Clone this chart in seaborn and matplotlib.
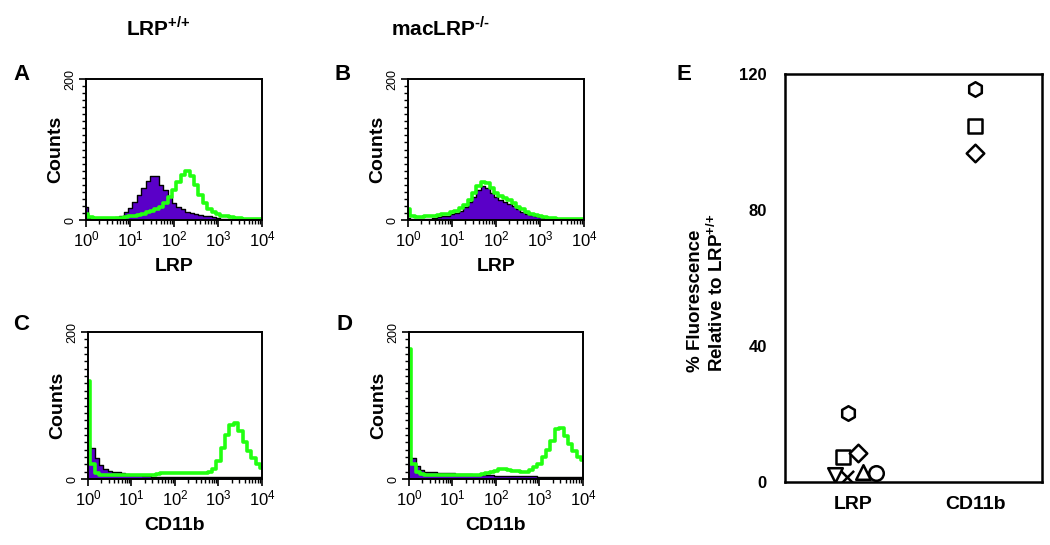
# Flow cytometry histograms (A-D) and relative fluorescence summary (E)

import seaborn as sns
import numpy as np
import matplotlib.pyplot as plt
import pandas as pd
from matplotlib.ticker import LogLocator, MultipleLocator, NullFormatter

# channel grid in log10 units (0.1 decade bins)
log_channels = np.round(np.arange(0, 4.01, 0.1), 1)

# counts per channel (purple = control, green = antibody)
a_purple = [18, 3, 2, 2, 2, 2, 3, 4, 6, 11, 17, 25, 35, 45, 55, 62, 62, 50, 42, 32,
            24, 18, 15, 12, 10, 8, 7, 6, 5, 4, 3, 2, 1, 1, 1, 0, 0, 0, 0, 0, 0]
a_green = [8, 4, 3, 3, 3, 3, 3, 3, 3, 4, 5, 6, 7, 9, 11, 13, 15, 19, 24, 32,
           42, 54, 64, 69, 62, 50, 36, 24, 16, 11, 8, 6, 5, 4, 3, 3, 2, 2, 2, 2, 2]
b_purple = [3, 2, 2, 2, 2, 2, 3, 4, 5, 6, 8, 10, 13, 18, 25, 32, 42, 48, 45, 38,
            32, 29, 26, 23, 20, 15, 12, 9, 7, 5, 4, 3, 2, 1, 1, 1, 1, 0, 0, 0, 0]
b_green = [15, 5, 4, 4, 5, 5, 6, 7, 8, 9, 11, 13, 17, 22, 29, 38, 48, 54, 52, 45,
           38, 34, 31, 28, 24, 19, 15, 11, 9, 7, 5, 4, 3, 3, 2, 2, 2, 2, 2, 2, 2]
c_purple = [45, 42, 28, 19, 14, 11, 10, 9, 8, 7, 6, 5, 5, 4, 4, 3, 3, 3, 3, 3,
            3, 3, 3, 3, 3, 3, 3, 3, 3, 3, 3, 3, 3, 3, 3, 3, 3, 3, 3, 3, 3]
c_green = [134, 20, 8, 6, 5, 5, 5, 5, 5, 5, 5, 5, 5, 5, 5, 6, 7, 8, 8, 8,
           8, 8, 8, 8, 8, 8, 8, 8, 9, 14, 25, 42, 60, 74, 76, 65, 50, 38, 28, 20, 15]
d_purple = [30, 28, 18, 12, 10, 9, 9, 8, 8, 8, 8, 7, 7, 7, 7, 6, 6, 5, 5, 5,
            4, 4, 4, 4, 4, 4, 4, 4, 4, 4, 3, 3, 3, 3, 3, 3, 3, 3, 3, 3, 3]
d_green = [177, 20, 10, 7, 6, 6, 6, 6, 6, 6, 6, 6, 6, 6, 6, 6, 6, 7, 8, 10,
           11, 13, 14, 12, 11, 11, 10, 9, 12, 16, 21, 30, 40, 52, 68, 70, 58, 47, 38, 30, 26]

# panel E values
e_groups = ['LRP', 'CD11b']
lrp_values = [20.3, 7.4, 8.5, 2.0, 1.4, 3.0, 2.7]
lrp_markers = ['h', 's', 'D', 'v', 'x', '^', 'o']
lrp_jitter = [-0.04, -0.08, 0.04, -0.15, -0.05, 0.08, 0.19]
cd11b_values = [115.6, 104.7, 96.7]
cd11b_markers = ['h', 's', 'D']
cd11b_jitter = [0.0, 0.0, 0.0]

PURPLE = '#5a00c8'
GREEN = '#22ff11'

sns.set_theme(style="ticks")
plt.rcParams['font.family'] = ['Liberation Sans', 'DejaVu Sans']
plt.rcParams['mathtext.fontset'] = 'custom'
plt.rcParams['mathtext.rm'] = 'Liberation Sans'
plt.rcParams['mathtext.bf'] = 'Liberation Sans:bold'
for key in ['text.color', 'axes.labelcolor', 'xtick.color', 'ytick.color']:
    plt.rcParams[key] = 'black'

fig = plt.figure(figsize=(10.5, 5.45), dpi=100)


def draw_hist(ax, purple, green, xlabel):
    x = 10 ** log_channels
    ax.fill_between(x, purple, step='mid', color=PURPLE, lw=0)
    sns.lineplot(x=x, y=purple, ax=ax, color='black', lw=1.0, drawstyle='steps-mid')
    sns.lineplot(x=x, y=green, ax=ax, color=GREEN, lw=2.6, drawstyle='steps-mid')
    ax.set_xscale('log')
    ax.set_xlim(1, 1e4)
    ax.set_ylim(0, 200)
    ax.xaxis.set_minor_locator(LogLocator(base=10, subs=np.arange(2, 10), numticks=10))
    ax.xaxis.set_minor_formatter(NullFormatter())
    ax.set_xticks([1, 10, 100, 1000, 10000])
    ax.set_xticklabels([r'$\mathregular{10^{%d}}$' % i for i in range(5)], fontsize=12)
    ax.set_yticks([0, 200])
    ax.set_yticklabels(['0', '200'], rotation=90, va='center', fontsize=9)
    ax.yaxis.set_minor_locator(MultipleLocator(10))
    ax.tick_params(axis='both', which='major', length=5, width=1.2, pad=2)
    ax.tick_params(axis='both', which='minor', length=3, width=1.0)
    for sp in ax.spines.values():
        sp.set_visible(True)
        sp.set_color('black')
        sp.set_linewidth(1.4)
    ax.set_xlabel(xlabel, fontsize=14, fontweight='bold', labelpad=6)
    ax.set_ylabel('Counts', fontsize=14, fontweight='bold', labelpad=0)


ax_a = fig.add_axes([0.0819, 0.5963, 0.1676, 0.2587])
ax_b = fig.add_axes([0.3886, 0.5963, 0.1676, 0.2587])
ax_c = fig.add_axes([0.0838, 0.1211, 0.1657, 0.2697])
ax_d = fig.add_axes([0.3895, 0.1211, 0.1657, 0.2697])

draw_hist(ax_a, a_purple, a_green, 'LRP')
draw_hist(ax_b, b_purple, b_green, 'LRP')
draw_hist(ax_c, c_purple, c_green, 'CD11b')
draw_hist(ax_d, d_purple, d_green, 'CD11b')

# panel E
ax_e = fig.add_axes([0.7476, 0.1156, 0.2448, 0.7486])
for grp_idx, (vals, marks, jit) in enumerate([(lrp_values, lrp_markers, lrp_jitter),
                                               (cd11b_values, cd11b_markers, cd11b_jitter)]):
    for v, m, j in zip(vals, marks, jit):
        if m == 'x':
            sns.scatterplot(x=[grp_idx + j], y=[v], ax=ax_e, marker=m, s=90,
                            color='black', linewidth=1.8)
        else:
            size = 80 if m == 'D' else 110
            sns.scatterplot(x=[grp_idx + j], y=[v], ax=ax_e, marker=m, s=size,
                            facecolor='white', edgecolor='black', linewidth=1.8)
ax_e.set_xlim(-0.56, 1.55)
ax_e.set_ylim(0, 120)
ax_e.set_xticks([0, 1])
ax_e.set_xticklabels(e_groups, fontsize=14, fontweight='bold')
ax_e.set_yticks([0, 40, 80, 120])
ax_e.set_yticklabels(['0', '40', '80', '120'], fontsize=12, fontweight='bold')
ax_e.tick_params(axis='y', length=0, pad=13)
ax_e.tick_params(axis='x', length=0, pad=10)
for sp in ax_e.spines.values():
    sp.set_visible(True)
    sp.set_color('black')
    sp.set_linewidth(1.8)
ax_e.set_ylabel('% Fluorescence\nRelative to LRP$^{\\mathbf{{+}/{+}}}$', fontsize=13.5,
                fontweight='bold', linespacing=1.15, multialignment='left')
ax_e.yaxis.set_label_coords(-0.226, 0.463)

# panel letters and column titles
for letter, (px, py) in zip('ABCDE', [(13, 74), (335, 74), (13, 324), (336, 324), (677, 74)]):
    fig.text(px / 1050, 1 - py / 545, letter, fontsize=16, fontweight='bold',
             ha='left', va='center')
fig.text(158 / 1050, 1 - 28 / 545, r'LRP$^{\mathbf{{+}/{+}}}$', fontsize=15,
         fontweight='bold', ha='center', va='center')
fig.text(441 / 1050, 1 - 28 / 545, 'macLRP$^{\\mathbf{\u2010/\u2010}}$', fontsize=15,
         fontweight='bold', ha='center', va='center')

plt.savefig("out.png", dpi=100)
